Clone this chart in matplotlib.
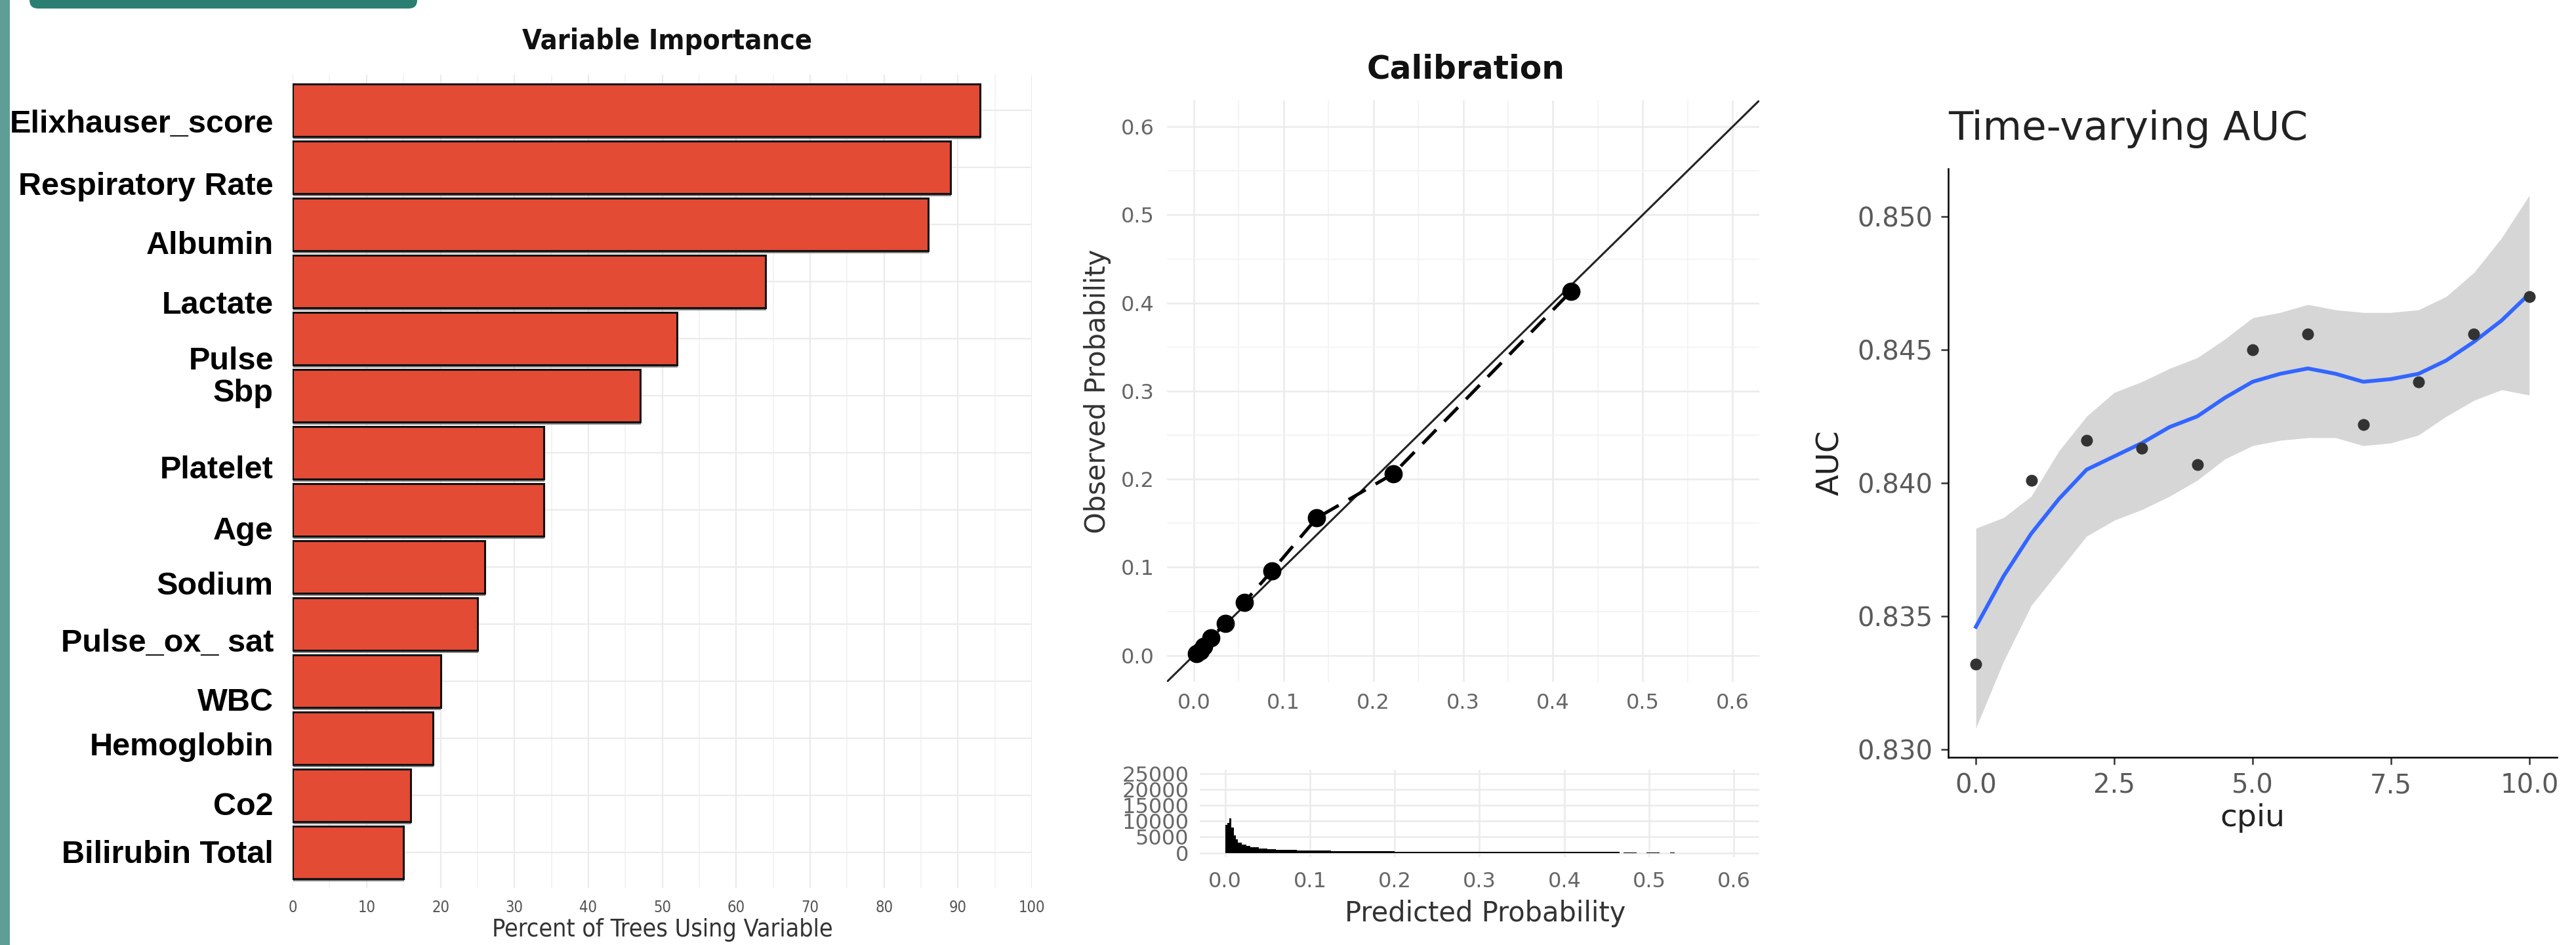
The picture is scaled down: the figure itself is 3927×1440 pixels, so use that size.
import matplotlib
matplotlib.use("Agg")
import matplotlib.pyplot as plt
import matplotlib.transforms as mtransforms
import matplotlib.patheffects as pe
from matplotlib.patches import Rectangle, FancyBboxPatch
from matplotlib.ticker import MultipleLocator, FormatStrFormatter

# ---- data ----
features = ["Elixhauser_score", "Respiratory Rate", "Albumin", "Lactate", "Pulse",
            "Sbp", "Platelet", "Age", "Sodium", "Pulse_ox_ sat", "WBC",
            "Hemoglobin", "Co2", "Bilirubin Total"]
pct_trees = [93, 89, 86, 64, 52, 47, 34, 34, 26, 25, 20, 19, 16, 15]

calib_pred = [0.003, 0.007, 0.011, 0.019, 0.035, 0.056, 0.087, 0.137, 0.222, 0.420]
calib_obs = [0.002, 0.005, 0.010, 0.020, 0.036, 0.060, 0.096, 0.156, 0.206, 0.413]

hist_edges = [0.0, 0.0025, 0.005, 0.0075, 0.010, 0.0125, 0.015, 0.020, 0.025, 0.030,
              0.040, 0.050, 0.060, 0.070, 0.085, 0.100, 0.125, 0.150, 0.200, 0.300,
              0.400, 0.465, 0.470, 0.485, 0.497, 0.512, 0.525, 0.530]
hist_counts = [8900, 9400, 10900, 7900, 5500, 4200, 3200, 2600, 2200, 1800,
               1450, 1200, 1050, 900, 780, 700, 640, 520, 330, 280,
               250, 0, 150, 0, 150, 0, 150]

auc_time = [0, 1, 2, 3, 4, 5, 6, 7, 8, 9, 10]
auc_obs = [0.8332, 0.8401, 0.8416, 0.8413, 0.8407, 0.8450, 0.8456, 0.8422, 0.8438, 0.8456, 0.8470]

smooth_x = [0, 0.5, 1, 1.5, 2, 2.5, 3, 3.5, 4, 4.5, 5, 5.5, 6, 6.5, 7, 7.5, 8, 8.5, 9, 9.5, 10]
smooth_fit = [0.8346, 0.8365, 0.8381, 0.8394, 0.8405, 0.8410, 0.8415, 0.8421, 0.8425, 0.8432, 0.8438,
              0.8441, 0.8443, 0.8441, 0.8438, 0.8439, 0.8441, 0.8446, 0.8453, 0.8461, 0.8471]
smooth_hi = [0.8383, 0.8387, 0.8395, 0.8412, 0.8425, 0.8434, 0.8438, 0.8443, 0.8447, 0.8454, 0.8462,
             0.8464, 0.8467, 0.8465, 0.8464, 0.8464, 0.8465, 0.8470, 0.8479, 0.8492, 0.8508]
smooth_lo = [0.8308, 0.8333, 0.8354, 0.8367, 0.8380, 0.8386, 0.8390, 0.8395, 0.8401, 0.8409, 0.8414,
             0.8416, 0.8417, 0.8417, 0.8414, 0.8415, 0.8418, 0.8425, 0.8431, 0.8435, 0.8433]

# label nudges (px, + = down) - the labels in the source sit a bit off the bars
label_nudge_px = [17, 25, 28, 32, 30, -8, 22, 28, 25, 25, 28, 8, 12, -2]

grey_txt = "#666666"
grid_c = "#ebebeb"

fig = plt.figure(figsize=(39.27, 14.4), dpi=100)

# decoration: left stripe + top tab
fig.add_artist(Rectangle((0, 0), 15 / 3927, 1, transform=fig.transFigure,
                         color="#5e9e96", lw=0))
fig.add_artist(FancyBboxPatch((0.45, 14.27), 5.91, 0.6,
                              boxstyle="round,pad=0,rounding_size=0.13",
                              transform=fig.dpi_scale_trans, color="#2a7f72", lw=0))

# ---------------- Variable Importance ----------------
ax1 = fig.add_axes([0.1136, 0.0604, 0.2870, 0.8606])
ypos = list(range(len(features)))
ax1.barh(ypos, pct_trees, height=0.92, color="#e34b35", edgecolor="#111111",
         linewidth=2.2, zorder=3,
         path_effects=[pe.SimplePatchShadow(offset=(0.5, -3), shadow_rgbFace="#555555", alpha=0.7),
                       pe.Normal()])
ax1.set_xlim(0, 100)
ax1.set_ylim(13.62, -0.62)
ax1.xaxis.set_major_locator(MultipleLocator(10))
ax1.xaxis.set_minor_locator(MultipleLocator(5))
ax1.grid(which="major", color=grid_c, lw=1.6, zorder=0)
ax1.grid(which="minor", axis="x", color="#f1f1f1", lw=1.2, zorder=0)
ax1.set_axisbelow(True)
for s in ax1.spines.values():
    s.set_visible(False)
ax1.tick_params(which="both", length=0)
ax1.set_yticks(ypos)
ax1.set_yticklabels(features, fontsize=35, fontweight="bold", family="Liberation Sans")
ax1.tick_params(axis="y", pad=21)
ax1.tick_params(axis="x", pad=13, labelsize=17, labelcolor="#555555")
for lab in ax1.get_xticklabels():
    lab.set_fontstretch("condensed")
for lab, d in zip(ax1.get_yticklabels(), label_nudge_px):
    lab.set_transform(lab.get_transform() +
                      mtransforms.ScaledTranslation(0, -d / 100, fig.dpi_scale_trans))
ax1.set_xlabel("Percent of Trees Using Variable", fontsize=27, color="#333333",
               fontstretch="condensed")
ax1.xaxis.set_label_coords(0.5, -0.0516)
ax1.xaxis.label.set_va("center")
ax1.text(0.507, 1.041, "Variable Importance", transform=ax1.transAxes, ha="center",
         va="center", fontsize=31, fontweight="bold", fontstretch="condensed",
         color="#111111")

# ---------------- Calibration ----------------
ax2 = fig.add_axes([0.4530, 0.2785, 0.2300, 0.6153])
ax2.set_xlim(-0.03, 0.63)
ax2.set_ylim(-0.03, 0.63)
ax2.axline((0, 0), slope=1, color="#222222", lw=2.2, zorder=3)
ax2.plot(calib_pred, calib_obs, color="black", lw=3.6, ls=(0, (6, 3.5)),
         marker="o", ms=19, zorder=4)
for a in (ax2.xaxis, ax2.yaxis):
    a.set_major_locator(MultipleLocator(0.1))
    a.set_minor_locator(MultipleLocator(0.05))
ax2.grid(which="major", color=grid_c, lw=1.8, zorder=0)
ax2.grid(which="minor", color="#f2f2f2", lw=1.2, zorder=0)
ax2.set_axisbelow(True)
for s in ax2.spines.values():
    s.set_visible(False)
ax2.tick_params(which="both", length=0, labelsize=23, labelcolor=grey_txt)
ax2.tick_params(axis="x", pad=12)
ax2.tick_params(axis="y", pad=14)
ax2.set_ylabel("Observed Probability", fontsize=30, color="#333333")
ax2.yaxis.set_label_coords(-0.1174, 0.5)
ax2.yaxis.label.set_va("center")
ax2.text(0.505, 1.054, "Calibration", transform=ax2.transAxes, ha="center", va="center",
         fontsize=35, fontweight="bold", color="#111111")

# histogram of predictions
ax3 = fig.add_axes([0.4657, 0.0931, 0.2173, 0.0924])
ax3.stairs(hist_counts, hist_edges, fill=True, color="black", zorder=3)
ax3.set_xlim(-0.03, 0.63)
ax3.set_ylim(-1300, 26200)
ax3.xaxis.set_major_locator(MultipleLocator(0.1))
ax3.yaxis.set_major_locator(MultipleLocator(5000))
ax3.grid(which="major", color=grid_c, lw=1.8, zorder=0)
ax3.set_axisbelow(True)
for s in ax3.spines.values():
    s.set_visible(False)
ax3.tick_params(which="both", length=0, labelsize=23, labelcolor=grey_txt)
ax3.tick_params(axis="x", pad=16)
ax3.tick_params(axis="y", pad=12)
ax3.set_xlabel("Predicted Probability", fontsize=30, color="#333333")
ax3.xaxis.set_label_coords(0.51, -0.647)
ax3.xaxis.label.set_va("center")

# ---------------- Time-varying AUC ----------------
ax4 = fig.add_axes([0.7563, 0.1986, 0.2363, 0.6229])
ax4.fill_between(smooth_x, smooth_lo, smooth_hi, color="#d6d6d6", lw=0, zorder=1)
ax4.plot(smooth_x, smooth_fit, color="#3366ff", lw=4.2, zorder=2)
ax4.plot(auc_time, auc_obs, "o", color="#333333", ms=12, zorder=3)
ax4.set_xlim(-0.5, 10.5)
ax4.set_ylim(0.8297, 0.8518)
ax4.set_xticks([0, 2.5, 5, 7.5, 10])
ax4.xaxis.set_major_formatter(FormatStrFormatter("%.1f"))
ax4.set_yticks([0.830, 0.835, 0.840, 0.845, 0.850])
ax4.yaxis.set_major_formatter(FormatStrFormatter("%.3f"))
ax4.spines["top"].set_visible(False)
ax4.spines["right"].set_visible(False)
ax4.spines["left"].set_linewidth(1.8)
ax4.spines["bottom"].set_linewidth(1.8)
ax4.tick_params(length=8, width=1.8, color="#333333", labelsize=29,
                labelcolor="#5a5a5a", pad=9)
ax4.set_xlabel("cpiu", fontsize=34, color="#222222")
ax4.xaxis.set_label_coords(0.5, -0.1026)
ax4.xaxis.label.set_va("center")
ax4.set_ylabel("AUC", fontsize=34, color="#222222")
ax4.yaxis.set_label_coords(-0.193, 0.5)
ax4.yaxis.label.set_va("center")
ax4.text(0.0, 1.067, "Time-varying AUC", transform=ax4.transAxes, ha="left", va="center",
         fontsize=44, color="#222222")

fig.savefig("out.png", dpi=100)
